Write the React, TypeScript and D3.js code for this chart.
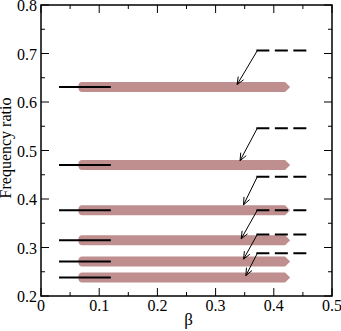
import React from "react";
import * as d3 from "d3";

// Frequency ratios of the modes (solid short lines + thick bands)
const modeRatios = [0.631, 0.470, 0.377, 0.315, 0.271, 0.238];
// beta range of the short black solid reference lines
const solidBeta = [0.031, 0.12];
// beta range of the thick bands
const bandBeta = [0.064, 0.428];
// dashed reference lines on the right
const dashedRatios = [0.706, 0.546, 0.446, 0.377, 0.327, 0.288];
const dashedBeta = [0.37, 0.457];
// arrow tips (beta, ratio), one per dashed line
const arrowTipBeta = [0.337, 0.342, 0.348, 0.344, 0.348, 0.352];
const arrowTipRatio = [0.636, 0.479, 0.388, 0.318, 0.276, 0.242];

const xTicks = [0, 0.1, 0.2, 0.3, 0.4, 0.5];
const xMinor = [0.05, 0.15, 0.25, 0.35, 0.45];
const yTicks = [0.2, 0.3, 0.4, 0.5, 0.6, 0.7, 0.8];
const yMinor = [0.25, 0.35, 0.45, 0.55, 0.65, 0.75];

const W = 341, H = 331;
const L = 41, R = 332, T = 5, B = 296;

export default function App() {
  const x = d3.scaleLinear().domain([0, 0.5]).range([L, R]);
  const y = d3.scaleLinear().domain([0.2, 0.8]).range([B, T]);
  const font = "Liberation Serif";
  const bandColor = "#bf8e8e";
  const bandHalf = 5;

  const bandPath = (r: number) => {
    const x0 = x(bandBeta[0]);
    const x1 = x(bandBeta[1]);
    const yc = y(r);
    return `M${x0 + 4},${yc - bandHalf} L${x1 - 5},${yc - bandHalf} L${x1},${yc} L${x1 - 5},${yc + bandHalf} L${x0 + 4},${yc + bandHalf} Q${x0},${yc + bandHalf} ${x0},${yc} Q${x0},${yc - bandHalf} ${x0 + 4},${yc - bandHalf} Z`;
  };

  const arrowHead = (x1: number, y1: number, x2: number, y2: number) => {
    const ang = Math.atan2(y2 - y1, x2 - x1);
    const len = 8, spread = 0.4;
    const a1x = x2 - len * Math.cos(ang - spread), a1y = y2 - len * Math.sin(ang - spread);
    const a2x = x2 - len * Math.cos(ang + spread), a2y = y2 - len * Math.sin(ang + spread);
    return `M${a1x},${a1y} L${x2},${y2} L${a2x},${a2y}`;
  };

  return (
    <svg width={W} height={H} style={{ position: "absolute", left: 0, top: 0 }}>
      <rect x={0} y={0} width={W} height={H} fill="#fff" />
      {/* bands */}
      {modeRatios.map((r, i) => (
        <path key={"b" + i} d={bandPath(r)} fill={bandColor} />
      ))}
      {/* solid short lines */}
      {modeRatios.map((r, i) => (
        <line key={"s" + i} x1={x(solidBeta[0])} x2={x(solidBeta[1])} y1={y(r)} y2={y(r)} stroke="#000" strokeWidth={2} />
      ))}
      {/* dashed lines */}
      {dashedRatios.map((r, i) => (
        <line key={"d" + i} x1={x(dashedBeta[0])} x2={x(dashedBeta[1])} y1={y(r)} y2={y(r)} stroke="#000" strokeWidth={2} strokeDasharray="13 5.5" />
      ))}
      {/* arrows */}
      {dashedRatios.map((r, i) => {
        const x1 = x(dashedBeta[0]) + 1, y1 = y(r);
        const x2 = x(arrowTipBeta[i]), y2 = y(arrowTipRatio[i]);
        return (
          <g key={"a" + i} stroke="#000" strokeWidth={1} fill="none">
            <line x1={x1} y1={y1} x2={x2} y2={y2} />
            <path d={arrowHead(x1, y1, x2, y2)} />
          </g>
        );
      })}
      {/* frame */}
      <rect x={L} y={T} width={R - L} height={B - T} fill="none" stroke="#000" strokeWidth={1.5} />
      {/* ticks */}
      <g stroke="#000" strokeWidth={1}>
        {xTicks.map((t) => (
          <g key={"xt" + t}>
            <line x1={x(t)} x2={x(t)} y1={B} y2={B - 8} />
            <line x1={x(t)} x2={x(t)} y1={T} y2={T + 8} />
          </g>
        ))}
        {xMinor.map((t) => (
          <g key={"xm" + t}>
            <line x1={x(t)} x2={x(t)} y1={B} y2={B - 4} />
            <line x1={x(t)} x2={x(t)} y1={T} y2={T + 4} />
          </g>
        ))}
        {yTicks.map((t) => (
          <g key={"yt" + t}>
            <line x1={L} x2={L + 8} y1={y(t)} y2={y(t)} />
            <line x1={R} x2={R - 8} y1={y(t)} y2={y(t)} />
          </g>
        ))}
        {yMinor.map((t) => (
          <g key={"ym" + t}>
            <line x1={L} x2={L + 4} y1={y(t)} y2={y(t)} />
            <line x1={R} x2={R - 4} y1={y(t)} y2={y(t)} />
          </g>
        ))}
      </g>
      {/* tick labels */}
      <g fontFamily={font} fontSize={16} fill="#000">
        {xTicks.map((t) => (
          <text key={"xl" + t} x={x(t)} y={B + 15} textAnchor="middle">{d3.format("")(t)}</text>
        ))}
        {yTicks.map((t) => (
          <text key={"yl" + t} x={L - 4} y={y(t) + 6} textAnchor="end">{t.toFixed(1)}</text>
        ))}
      </g>
      {/* axis titles */}
      <text x={(L + R) / 2 + 2} y={325} textAnchor="middle" fontFamily={font} fontSize={17}>β</text>
      <text transform={`translate(11,148) rotate(-90)`} textAnchor="middle" fontFamily={font} fontSize={16}>Frequency ratio</text>
    </svg>
  );
}
